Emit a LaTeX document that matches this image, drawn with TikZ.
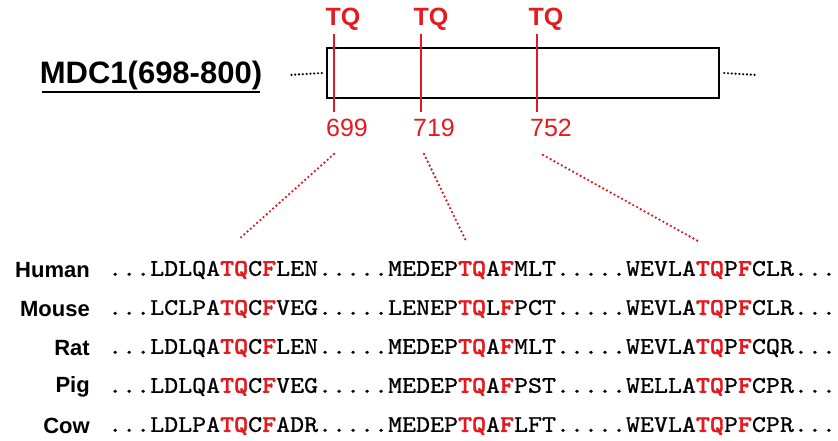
\documentclass[tikz,border=0pt]{standalone}
\usepackage{fontspec}
\setmainfont{Liberation Sans}
\newfontfamily\seqfont{lmmono10-regular.otf}[BoldFont=lmmonolt10-bold.otf,FakeStretch=1.12,UprightFeatures={FakeBold=0.8},BoldFeatures={FakeBold=1.6}]
\definecolor{tqred}{RGB}{228,26,32}
\newcommand\hl[1]{{\bfseries\color{tqred}#1}}
\tikzset{
  species/.style={anchor=east,inner sep=0pt,font=\fontsize{22}{24}\selectfont\bfseries},
  seqrow/.style={anchor=west,inner sep=0pt,font=\fontsize{23.8}{26}\selectfont\seqfont},
  tqlabel/.style={inner sep=0pt,text=tqred,font=\fontsize{25}{27}\selectfont\bfseries},
  poslabel/.style={inner sep=0pt,text=tqred,font=\fontsize{25}{27}\selectfont},
  site/.style={draw=tqred,line width=2pt},
  link/.style={draw=tqred,line width=2.6pt,dash pattern=on 0pt off 4.3pt,line cap=round},
  flank/.style={line width=2.4pt,dash pattern=on 0pt off 3.8pt,line cap=round}
}
\begin{document}
\begin{tikzpicture}[x=1pt,y=-1pt]
\useasboundingbox (0,0) rectangle (838,440);
% title
\node[inner sep=0pt,font=\fontsize{31}{33}\selectfont\bfseries] (title) at (151,75) {MDC1(698-800)};
\coordinate (ulL) at (42,92);
\coordinate (ulR) at (260,92);
\draw[line width=1.8pt] (ulL) -- (ulR);
% protein box
\node[draw,line width=2.4pt,minimum width=392pt,minimum height=50pt,inner sep=0pt] (box) at (523,73) {};
\coordinate (fl1) at (289,75);
\coordinate (fl2) at (757,75);
\draw[flank] ([xshift=-4pt]box.west) -- (fl1);
\draw[flank] ([xshift=4pt]box.east) -- (fl2);
% sites
\coordinate (s1t) at (334,34); \coordinate (s1b) at (334,112);
\coordinate (s2t) at (421,34); \coordinate (s2b) at (421,112);
\coordinate (s3t) at (537,34); \coordinate (s3b) at (537,112);
\draw[site] (s1t) -- (s1b);
\draw[site] (s2t) -- (s2b);
\draw[site] (s3t) -- (s3b);
\node[tqlabel] (tq1) at (343,19) {TQ};
\node[tqlabel] (tq2) at (431,19) {TQ};
\node[tqlabel] (tq3) at (546,19) {TQ};
\node[poslabel] (p1) at (347,128) {699};
\node[poslabel] (p2) at (434,128) {719};
\node[poslabel] (p3) at (551,128) {752};
% zoom links
\coordinate (a1) at (334,154); \coordinate (b1) at (238,240);
\coordinate (a2) at (424,154); \coordinate (b2) at (467,243);
\coordinate (a3) at (543,155); \coordinate (b3) at (698,241);
\draw[link] (a1) -- (b1);
\draw[link] (a2) -- (b2);
\draw[link] (a3) -- (b3);
% alignment
\node[species] (hu) at (90,270) {Human};
\node[species] (mo) at (90,309) {Mouse};
\node[species] (ra) at (90,348) {Rat};
\node[species] (pi) at (90,387) {Pig};
\node[species] (co) at (90,426) {Cow};
\node[seqrow] (shu) at (108,270) {...LDLQA\hl{TQ}C\hl{F}LEN.....MEDEP\hl{TQ}A\hl{F}MLT.....WEVLA\hl{TQ}P\hl{F}CLR...};
\node[seqrow] (smo) at (108,309) {...LCLPA\hl{TQ}C\hl{F}VEG.....LENEP\hl{TQ}L\hl{F}PCT.....WEVLA\hl{TQ}P\hl{F}CLR...};
\node[seqrow] (sra) at (108,348) {...LDLQA\hl{TQ}C\hl{F}LEN.....MEDEP\hl{TQ}A\hl{F}MLT.....WEVLA\hl{TQ}P\hl{F}CQR...};
\node[seqrow] (spi) at (108,387) {...LDLQA\hl{TQ}C\hl{F}VEG.....MEDEP\hl{TQ}A\hl{F}PST.....WELLA\hl{TQ}P\hl{F}CPR...};
\node[seqrow] (sco) at (108,426) {...LDLPA\hl{TQ}C\hl{F}ADR.....MEDEP\hl{TQ}A\hl{F}LFT.....WEVLA\hl{TQ}P\hl{F}CPR...};
\end{tikzpicture}
\end{document}
